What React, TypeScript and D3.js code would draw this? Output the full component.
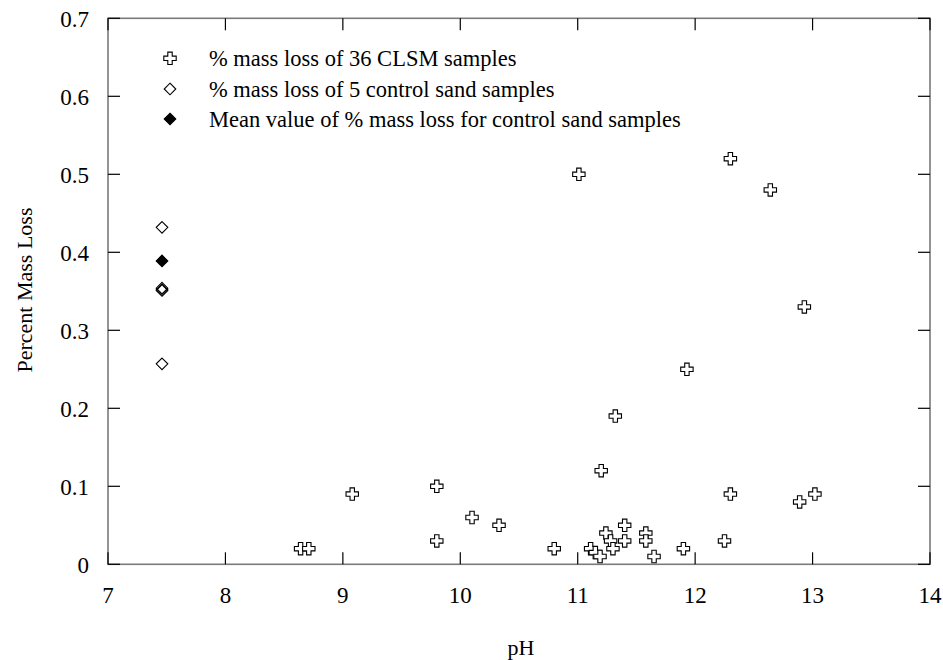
import React from "react";
import * as d3 from "d3";

const clsmPH = [8.64, 8.71, 9.08, 9.8, 9.8, 10.1, 10.33, 10.8, 11.01, 11.11, 11.15, 11.19, 11.2, 11.24, 11.28, 11.3, 11.32, 11.4, 11.4, 11.58, 11.58, 11.65, 11.9, 11.93, 12.25, 12.3, 12.3, 12.64, 12.89, 12.93, 13.02];
const clsmLoss = [0.02, 0.02, 0.09, 0.1, 0.03, 0.06, 0.05, 0.02, 0.5, 0.02, 0.015, 0.01, 0.12, 0.04, 0.03, 0.02, 0.19, 0.05, 0.03, 0.04, 0.03, 0.01, 0.02, 0.25, 0.03, 0.09, 0.52, 0.48, 0.08, 0.33, 0.09];
const sandPH = [7.46, 7.46, 7.46, 7.46, 7.46];
const sandLoss = [0.432, 0.354, 0.351, 0.352, 0.257];
const meanPH = [7.46];
const meanLoss = [0.389];
const xTicks = [7, 8, 9, 10, 11, 12, 13, 14];
const yTicks = [0, 0.1, 0.2, 0.3, 0.4, 0.5, 0.6, 0.7];
const legendLabels = [
  "% mass loss of 36 CLSM samples",
  "% mass loss of 5 control sand samples",
  "Mean value of % mass loss for control sand samples",
];

const W = 943;
const H = 660;
const L = 108, R = 930, T = 18.3, B = 564.3;
const FONT = "'Liberation Serif', 'Times New Roman', serif";

function plusPath(cx: number, cy: number) {
  const a = 6.2, b = 2.2;
  return `M${cx - b},${cy - a}H${cx + b}V${cy - b}H${cx + a}V${cy + b}H${cx + b}V${cy + a}H${cx - b}V${cy + b}H${cx - a}V${cy - b}H${cx - b}Z`;
}
function diamondPath(cx: number, cy: number) {
  const r = 5.8;
  return `M${cx},${cy - r}L${cx + r},${cy}L${cx},${cy + r}L${cx - r},${cy}Z`;
}

export default function App() {
  const x = d3.scaleLinear().domain([7, 14]).range([L, R]);
  const y = d3.scaleLinear().domain([0, 0.7]).range([B, T]);
  const tl = 12;
  const fmt = (v: number) => (v === 0 ? "0" : d3.format(".1f")(v));
  return (
    <svg width={W} height={H} style={{ position: "absolute", left: 0, top: 0, background: "#fff" }} fontFamily={FONT}>
      <rect x={0} y={0} width={W} height={H} fill="#fff" />
      <rect x={L} y={T} width={R - L} height={B - T} fill="none" stroke="#7a7a7a" strokeWidth={1.6} />
      {xTicks.map((t) => (
        <g key={"x" + t}>
          <line x1={x(t)} x2={x(t)} y1={B} y2={B - tl} stroke="#000" strokeWidth={1.2} />
          <line x1={x(t)} x2={x(t)} y1={T} y2={T + tl} stroke="#000" strokeWidth={1.2} />
          <text x={x(t)} y={603} textAnchor="middle" fontSize={23} fill="#000">{t}</text>
        </g>
      ))}
      {yTicks.map((t) => (
        <g key={"y" + t}>
          <line x1={L} x2={L + tl} y1={y(t)} y2={y(t)} stroke="#000" strokeWidth={1.2} />
          <line x1={R} x2={R - tl} y1={y(t)} y2={y(t)} stroke="#000" strokeWidth={1.2} />
          <text x={89} y={y(t) + 8.5} textAnchor="end" fontSize={23} fill="#000">{fmt(t)}</text>
        </g>
      ))}
      <text x={521} y={655} textAnchor="middle" fontSize={22} fill="#000">pH</text>
      <text transform={`translate(32,290) rotate(-90)`} textAnchor="middle" fontSize={22} fill="#000">Percent Mass Loss</text>
      {clsmPH.map((p, i) => (
        <path key={"c" + i} d={plusPath(x(p), y(clsmLoss[i]))} fill="#fff" stroke="#000" strokeWidth={1.1} />
      ))}
      {sandPH.map((p, i) => (
        <path key={"s" + i} d={diamondPath(x(p), y(sandLoss[i]))} fill="none" stroke="#000" strokeWidth={1.1} />
      ))}
      {meanPH.map((p, i) => (
        <path key={"m" + i} d={diamondPath(x(p), y(meanLoss[i]))} fill="#000" stroke="#000" strokeWidth={1.1} />
      ))}
      <g>
        <path d={plusPath(170, 58.3)} fill="#fff" stroke="#000" strokeWidth={1.1} />
        <path d={diamondPath(170, 89)} fill="none" stroke="#000" strokeWidth={1.1} />
        <path d={diamondPath(170, 119)} fill="#000" stroke="#000" strokeWidth={1.1} />
        {legendLabels.map((s, i) => (
          <text key={s} x={209} y={[58.3, 89, 119][i] + 8} fontSize={22.5} fill="#000">{s}</text>
        ))}
      </g>
    </svg>
  );
}
